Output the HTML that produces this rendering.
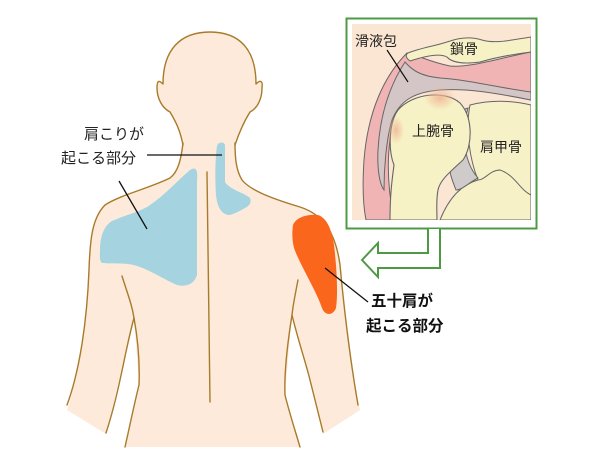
<!DOCTYPE html>
<html><head><meta charset="utf-8"><style>
html,body{margin:0;padding:0;background:#fff;width:600px;height:450px;overflow:hidden}
text{font-family:"Liberation Sans","Noto Sans CJK JP",sans-serif}
</style></head><body>
<svg width="600" height="450" viewBox="0 0 600 450" xmlns="http://www.w3.org/2000/svg">
<defs>
<radialGradient id="glow" cx="0.5" cy="0.5" r="0.5"><stop offset="0" stop-color="#f0b898" stop-opacity="0.9"/><stop offset="1" stop-color="#f0b898" stop-opacity="0"/></radialGradient>
</defs>
<path d="M183,145 C180,160 178,172 170,178 C150,188 120,195 105,205 C92,218 90,240 89,270 C87,320 80,370 67,410 L106,434 L134,318 L139,385 L125,447 L300,447 L285,395 L292,315 L310,380 L323,434 L360,410 C352,370 346,330 340,265 C336,235 325,215 300,207 C270,198 250,190 242,180 C236,170 235,158 235,145 C240,130 245,120 250,112 C258,108 262,98 262,88 C263,80 260,80 256,84 C256,50 240,32 210,32 C180,32 163,50 163,84 C159,80 157,80 157,88 C157,98 162,108 170,112 C176,122 180,130 183,145 Z" fill="#fdeadb"/>
<g fill="none" stroke="#a87b2a" stroke-width="1.4" stroke-linecap="round" stroke-linejoin="round">
<path d="M183,145 C180,130 176,122 170,112 C162,108 157,98 157,88 C157,80 159,80 163,84 C163,50 180,32 210,32 C240,32 256,50 256,84 C260,80 263,80 262,88 C262,98 258,108 250,112 C245,120 240,130 235,145"/>
<path d="M183,143 C181,160 178,172 170,178 C150,188 120,195 105,205 C92,218 90,240 89,270 C87,320 80,370 67,405"/>
<path d="M235,143 C235,158 236,170 242,180 C250,190 270,198 300,207 C325,215 336,235 340,265 C346,330 352,370 358,405"/>
<path d="M122,276 C128,295 132,305 134,318 C125,350 120,390 106,433"/>
<path d="M134,318 C138,340 140,360 139,385 C134,405 130,425 125,447"/>
<path d="M298,280 C295,295 293,305 292,315 C288,340 284,370 285,395 C290,415 295,430 300,447"/>
<path d="M292,315 C298,340 305,360 310,380 C315,400 320,420 323,432"/>
<path d="M207,172 L210,402"/>
</g>
<path d="M100,250 C100,235 105,225 112,221 C125,215 140,212 150,205 C165,195 178,180 190,170 C196,166 198,170 197,180 L197,275 C194,285 185,287 177,285 C165,280 150,270 137,266 C125,262 110,264 102,263 C99,260 100,255 100,250 Z" fill="#a6d3e0"/>
<path d="M217,146 C218,142 224,141 225,145 L225,182 C230,190 245,193 250,198 C252,203 249,206 245,208 C238,212 232,215 228,215 C220,213 217,205 216,195 C215,180 215,160 217,146 Z" fill="#a6d3e0"/>
<path d="M293,225 C296,218 305,214 318,215 C327,218 332,230 334,245 C337,270 338,295 336,308 C333,316 325,316 322,308 C316,290 300,265 294,248 C292,240 292,232 293,225 Z" fill="#fa661c"/>
<g stroke="#111" stroke-width="1.3">
<line x1="147" y1="155" x2="222" y2="155"/>
<line x1="119" y1="181" x2="147" y2="229"/>
<line x1="325" y1="268" x2="368" y2="302"/>
</g>
<text x="84" y="139" font-size="15" fill="#222">肩こりが</text>
<text x="61" y="163" font-size="15" fill="#222">起こる部分</text>
<text x="371" y="306" font-size="15.5" font-weight="bold" fill="#111">五十肩が</text>
<text x="366" y="331" font-size="15.5" font-weight="bold" fill="#111">起こる部分</text>
<rect x="346.5" y="18.5" width="190" height="210" fill="#fff" stroke="#4e9a44" stroke-width="2"/>
<svg x="352" y="24" width="179" height="196" viewBox="352 24 179 196" overflow="hidden">
<rect x="352" y="24" width="179" height="196" fill="#fbe6d3"/>
<path d="M470,105 C490,100 510,100 531,105 L531,220 L440,220 C448,200 460,185 478,180 C470,160 465,130 470,105 Z" fill="#f6f1c6" stroke="#666" stroke-width="1"/>
<path d="M531,195 C520,190 515,175 500,170 C490,170 485,180 478,180" fill="none" stroke="#666" stroke-width="1"/>
<path d="M468,108 C462,130 462,160 478,178 C470,182 462,190 456,190 C452,180 448,170 450,160 C455,140 460,120 462,110 Z" fill="#cfcbcb" stroke="#666" stroke-width="1"/>
<path d="M407,53 C385,75 368,110 364,160 C362,190 364,210 366,220 L394,220 C390,200 386,170 390,140 C394,110 402,95 422,88 C452,80 490,92 531,100 L531,52 C500,58 470,68 450,66 C430,62 420,56 407,53 Z" fill="#f1b4b4" stroke="#666" stroke-width="1"/>
<path d="M405,62 C390,85 380,115 378,150 C377,170 380,185 384,190 C384,170 386,140 392,120 C400,100 415,92 440,90 C470,88 500,94 531,100 L531,92 C500,88 470,80 440,78 C420,76 412,70 405,62 Z" fill="#d4c6c6" stroke="#666" stroke-width="1"/>
<path d="M390,220 C390,195 392,180 394,165 C388,150 389,122 398,110 C413,93 445,90 460,103 C473,117 473,145 463,160 C450,172 440,180 438,190 C436,200 437,212 437,220 Z" fill="#f7f1c6" stroke="#666" stroke-width="1.1"/>
<ellipse cx="440" cy="98" rx="16" ry="12" fill="url(#glow)"/>
<ellipse cx="396" cy="130" rx="8" ry="14" fill="url(#glow)"/>
<path d="M408,53 C420,48 435,46 447,42 C458,38 470,36 482,40 C495,44 512,40 531,37 L531,52 C515,54 497,57 480,62 C465,64 452,63 447,57 C440,53 425,56 410,61 C406,58 405,55 408,53 Z" fill="#f7f1c6" stroke="#666" stroke-width="1"/>
<line x1="387" y1="50" x2="408" y2="82" stroke="#111" stroke-width="1.2"/>
<text x="355" y="46" font-size="14" fill="#222">滑液包</text>
<text x="450" y="54" font-size="14" fill="#222">鎖骨</text>
<text x="412" y="136" font-size="14" fill="#222">上腕骨</text>
<text x="480" y="152" font-size="14" fill="#222">肩甲骨</text>
</svg>
<path d="M428,229 L428,253 L378,253 L378,243 L362,260 L378,277 L378,268 L440,268 L440,229" fill="#fff" stroke="#4e9a44" stroke-width="2" stroke-linejoin="miter"/>
</svg>
</body></html>
